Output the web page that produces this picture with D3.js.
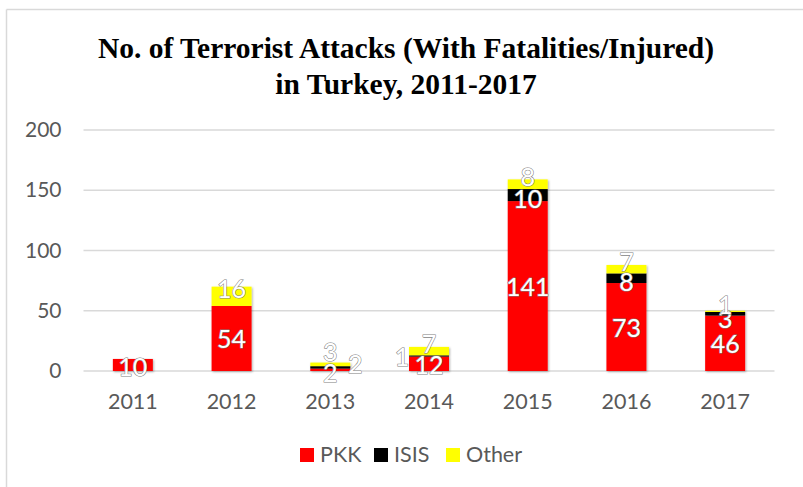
<!DOCTYPE html>
<html>
<head>
<meta charset="utf-8">
<script src="https://cdn.jsdelivr.net/npm/d3@7"></script>
<style>
  html, body { margin: 0; padding: 0; background: #fff; }
  svg { display: block; }
</style>
</head>
<body>
<svg id="chart" width="803" height="487"></svg>
<script>
const years = ["2011", "2012", "2013", "2014", "2015", "2016", "2017"];
const seriesNames = ["PKK", "ISIS", "Other"];
const pkk   = [10, 54, 2, 12, 141, 73, 46];
const isis  = [0, 0, 2, 1, 10, 8, 3];
const other = [0, 16, 3, 7, 8, 7, 1];
const seriesColors = ["#FF0000", "#000000", "#FFFF00"];
const yTicks = [0, 50, 100, 150, 200];
const titleLines = ["No. of Terrorist Attacks (With Fatalities/Injured)", "in Turkey, 2011-2017"];

const svg = d3.select("#chart");
const W = 803, H = 487;
const margin = { left: 83.5, right: 28.5, top: 130, bottom: 116 };

// frame (top and left border)
svg.append("line").attr("x1", 6.5).attr("x2", W).attr("y1", 9.5).attr("y2", 9.5)
  .attr("stroke", "#D9D9D9").attr("stroke-width", 1.5);
svg.append("line").attr("x1", 6.5).attr("x2", 6.5).attr("y1", 9.5).attr("y2", H)
  .attr("stroke", "#D9D9D9").attr("stroke-width", 1.5);

const defs = svg.append("defs");
const f = defs.append("filter").attr("id", "shadow").attr("x", "-20%").attr("y", "-20%").attr("width", "140%").attr("height", "140%");
f.append("feDropShadow").attr("dx", 1).attr("dy", 1).attr("stdDeviation", 1.2).attr("flood-color", "#000").attr("flood-opacity", 0.3);

const x = d3.scaleBand().domain(years).range([margin.left, W - margin.right])
  .paddingInner(0.595).paddingOuter(0.2975);
const y = d3.scaleLinear().domain([0, 200]).range([H - margin.bottom, margin.top]);

// gridlines
svg.append("g").selectAll("line").data(yTicks).join("line")
  .attr("x1", margin.left).attr("x2", W - margin.right)
  .attr("y1", d => y(d)).attr("y2", d => y(d))
  .attr("stroke", "#D9D9D9").attr("stroke-width", 1.3);

// y axis labels
const yAxis = d3.axisLeft(y).tickValues(yTicks).tickSize(0).tickPadding(22);
const yg = svg.append("g").attr("transform", `translate(${margin.left},0)`).call(yAxis);
yg.select(".domain").remove();
yg.selectAll("text").attr("font-family", "Lato, 'Open Sans', sans-serif").attr("font-size", 21).attr("fill", "#595959");

// x axis labels
const xAxis = d3.axisBottom(x).tickSize(0).tickPadding(23);
const xg = svg.append("g").attr("transform", `translate(0,${y(0)})`).call(xAxis);
xg.select(".domain").remove();
xg.selectAll("text").attr("font-family", "Lato, 'Open Sans', sans-serif").attr("font-size", 21.5).attr("fill", "#595959");

// stack
const table = years.map((yr, i) => ({ year: yr, PKK: pkk[i], ISIS: isis[i], Other: other[i] }));
const stack = d3.stack().keys(seriesNames)(table);

const gBars = svg.append("g").attr("filter", "url(#shadow)");
stack.forEach((s, si) => {
  gBars.append("g").attr("fill", seriesColors[si]).selectAll("rect").data(s).join("rect")
    .attr("x", d => x(d.data.year))
    .attr("width", x.bandwidth())
    .attr("y", d => y(d[1]))
    .attr("height", d => y(d[0]) - y(d[1]));
});

// data labels
const seriesDy = { PKK: 0, ISIS: 3, Other: -8 };
const special = {
  "2013|PKK": [0, 2], "2013|ISIS": [25, -4], "2013|Other": [0, -13],
  "2014|PKK": [0, 0], "2014|ISIS": [-27, 0], "2014|Other": [0, -8],
  "2017|ISIS": [0, 4], "2017|Other": [0, -7], "2011|PKK": [0, 1]
};
const labels = [];
stack.forEach((s, si) => {
  s.forEach(d => {
    const v = d[1] - d[0];
    if (v <= 0) return;
    const key = d.data.year + "|" + s.key;
    const off = special[key] || [0, seriesDy[s.key]];
    labels.push({ v, cx: x(d.data.year) + x.bandwidth() / 2 + off[0], cy: (y(d[0]) + y(d[1])) / 2 + off[1] });
  });
});
svg.append("g").selectAll("text").data(labels).join("text")
  .attr("x", d => d.cx).attr("y", d => d.cy)
  .attr("text-anchor", "middle").attr("dominant-baseline", "central")
  .attr("font-family", "Lato, 'Open Sans', sans-serif").attr("font-size", 25)
  .attr("fill", "#FFFFFF").attr("stroke", "#7F7F7F").attr("stroke-width", 1.1)
  .attr("paint-order", "stroke")
  .text(d => d.v);

// title
svg.append("g").selectAll("text").data(titleLines).join("text")
  .attr("x", 406).attr("y", (d, i) => 58 + i * 36)
  .attr("text-anchor", "middle")
  .attr("font-family", "'Liberation Serif', 'Times New Roman', serif")
  .attr("font-weight", "bold").attr("font-size", 29.5).attr("fill", "#000")
  .text(d => d);

// legend
const legendItems = seriesNames.map((n, i) => ({ n, c: seriesColors[i] }));
const legendX = [300, 374, 446];
const lg = svg.append("g");
legendItems.forEach((d, i) => {
  lg.append("rect").attr("x", legendX[i]).attr("y", 448).attr("width", 14).attr("height", 14).attr("fill", d.c);
  lg.append("text").attr("x", legendX[i] + 20).attr("y", 462)
    .attr("font-family", "Lato, 'Open Sans', sans-serif").attr("font-size", 21.5).attr("fill", "#595959")
    .text(d.n);
});
</script>
</body>
</html>
